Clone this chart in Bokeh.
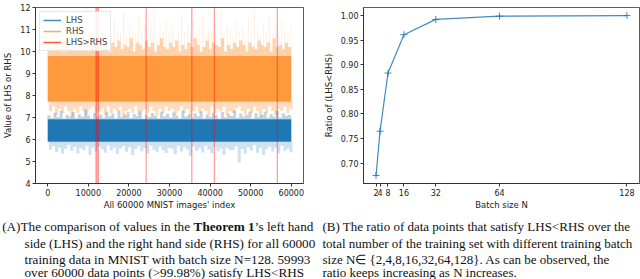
from bokeh.plotting import figure
from bokeh.layouts import row, column
from bokeh.models import Range1d, FixedTicker, Span, Label, Legend, LegendItem, PrintfTickFormatter
from bokeh.embed import file_html
from bokeh.resources import INLINE

# ---------------- data: panel A ----------------
index_span = [0, 60000]
lhs_core = [5.90, 6.92]
rhs_core = [7.72, 9.80]

spike_x = list(range(300, 60000, 750))
tall_x = list(range(675, 60000, 750))

rhs_top_mid = [10.3,10.1,10.5,10.2,10.4,10.0,10.6,10.2,10.3,10.1,10.4,10.7,10.2,10.0,10.3,10.5,10.1,10.2,10.6,10.3,
               10.0,10.4,10.2,10.5,10.1,10.3,10.2,10.6,10.0,10.4,10.3,10.1,10.5,10.2,10.4,10.0,10.3,10.6,10.2,10.1,
               10.4,10.2,10.5,10.0,10.3,10.1,10.4,10.2,10.6,10.3,10.0,10.2,10.5,10.1,10.4,10.3,10.2,10.6,10.0,10.3,
               10.1,10.4,10.2,10.5,10.3,10.0,10.4,10.2,10.1,10.5,10.3,10.2,10.4,10.0,10.6,10.2,10.3,10.1,10.4,10.2]
rhs_top_tall = [11.2,10.8,11.6,10.6,11.0,11.9,10.7,11.3,10.9,11.5,10.6,11.1,12.0,10.8,11.4,10.7,11.0,11.7,10.9,11.2,
                10.6,11.5,11.0,10.8,11.8,10.7,11.3,11.0,10.9,11.6,10.8,11.2,10.6,11.4,11.9,10.7,11.1,10.9,11.5,10.8,
                11.3,10.6,11.0,11.7,10.9,11.2,10.7,11.4,10.8,11.1,11.6,10.7,11.0,10.9,11.3,10.6,11.8,10.8,11.2,11.0,
                10.7,11.5,10.9,11.1,10.6,11.4,10.8,11.9,11.0,10.7,11.3,10.9,11.6,10.8,11.1,10.7,11.4,11.0,10.8,11.2]
rhs_bottom = [7.3,7.5,7.1,7.4,7.2,7.5,7.3,7.0,7.4,7.2,7.5,7.3,7.1,7.4,7.5,7.2,7.3,7.4,7.1,7.5,
              7.2,7.4,7.3,7.5,7.0,7.3,7.4,7.2,7.5,7.1,7.3,7.4,7.2,7.5,7.3,7.1,7.4,7.2,7.5,7.3,
              7.4,7.1,7.3,7.5,7.2,7.4,7.0,7.3,7.5,7.2,7.4,7.3,7.1,7.5,7.2,7.4,7.3,7.5,7.1,7.3,
              7.2,7.4,7.5,7.3,7.1,7.4,7.2,7.5,7.3,7.0,7.4,7.2,7.5,7.3,7.1,7.4,7.3,7.5,7.2,7.4]
lhs_top = [7.10,6.98,7.22,7.02,7.30,6.95,7.12,7.05,7.25,6.97,7.15,7.03,7.35,7.08,6.96,7.20,7.04,7.14,6.99,7.27,
           7.06,7.18,6.95,7.32,7.01,7.11,7.24,6.98,7.16,7.07,7.29,6.96,7.13,7.02,7.21,7.09,6.97,7.26,7.04,7.17,
           7.00,7.23,7.08,6.95,7.31,7.05,7.14,6.99,7.19,7.06,7.28,6.97,7.12,7.03,7.22,7.10,6.96,7.25,7.01,7.15,
           7.07,7.33,6.98,7.18,7.04,7.11,7.27,6.96,7.20,7.02,7.13,7.24,6.99,7.16,7.05,7.30,7.00,7.19,7.08,7.12]
lhs_bottom = [5.55,5.70,5.42,5.62,5.35,5.58,5.75,5.48,5.66,5.38,5.60,5.52,5.72,5.30,5.64,5.46,5.68,5.56,5.40,5.74,
              5.50,5.63,5.34,5.59,5.71,5.44,5.65,5.28,5.57,5.69,5.47,5.61,5.36,5.73,5.53,5.43,5.67,5.51,5.39,5.62,
              5.58,5.33,5.70,5.45,5.64,5.55,5.26,5.68,5.49,5.60,5.41,5.72,5.54,5.37,5.66,5.47,5.59,5.31,5.63,5.52,
              5.52,5.69,4.95,5.57,5.35,5.65,5.50,5.74,5.40,5.61,5.29,5.56,5.67,5.45,5.62,5.38,5.71,5.48,5.58,5.42]
violations = [11900, 12150, 12500, 24250, 35500, 41050, 56550]

a_xticks = [0, 10000, 20000, 30000, 40000, 50000, 60000]
a_yticks = [4, 5, 6, 7, 8, 9, 10, 11, 12]

# ---------------- data: panel B ----------------
batch = [2, 4, 8, 16, 32, 64, 128]
ratio = [0.675, 0.765, 0.883, 0.961, 0.992, 0.9985, 0.99988]
b_yticks = [0.70, 0.75, 0.80, 0.85, 0.90, 0.95, 1.00]

BLUE = "#1f77b4"
ORANGE = "#ff993e"
W, HF, HC = 320, 214, 65
SANS = "DejaVu Sans"
SERIF = "Liberation Serif"
NAN = float("nan")
STEP = 750


def style(p):
    p.grid.visible = False
    p.outline_line_color = "#333333"
    p.outline_line_width = 0.8
    for ax in (p.xaxis[0], p.yaxis[0]):
        ax.major_tick_in = 0
        ax.major_tick_out = 3
        ax.minor_tick_line_color = None
        ax.axis_line_color = "#333333"
        ax.major_tick_line_color = "#333333"
        ax.major_label_text_font = SANS
        ax.major_label_text_font_size = "8px"
        ax.major_label_text_color = "#222222"
        ax.major_label_standoff = 2
        ax.axis_label_text_font = SANS
        ax.axis_label_text_font_size = "8.5px"
        ax.axis_label_text_font_style = "normal"
        ax.axis_label_text_color = "#222222"
    p.xaxis[0].axis_label_standoff = 1
    p.yaxis[0].axis_label_standoff = 4


def flat(v, n):
    return [v] * n


# ---------------- panel A ----------------
pa = figure(width=W, height=HF, output_backend="svg", toolbar_location=None,
            x_range=Range1d(-3000, 63000), y_range=Range1d(4, 12),
            min_border_left=30, min_border_right=17, min_border_top=5, min_border_bottom=31,
            x_axis_label="All 60000 MNIST images' index", y_axis_label="Value of LHS or RHS")
style(pa)
pa.xaxis.ticker = FixedTicker(ticks=a_xticks)
pa.yaxis.ticker = FixedTicker(ticks=a_yticks)

n2 = len(index_span)
ns = len(spike_x)
# RHS
pa.segment(x0=tall_x, y0=flat(rhs_core[1], ns), x1=tall_x, y1=rhs_top_tall,
           line_color=ORANGE, line_alpha=0.16, line_width=1)
pa.vbar(x=spike_x, width=STEP, bottom=flat(rhs_core[1], ns), top=rhs_top_mid,
        fill_color=ORANGE, fill_alpha=0.42, line_color=None)
pa.vbar(x=tall_x, width=STEP, bottom=rhs_bottom, top=flat(rhs_core[0], ns),
        fill_color=ORANGE, fill_alpha=0.35, line_color=None)
pa.varea(x=index_span, y1=flat(rhs_core[0], n2), y2=flat(rhs_core[1], n2), fill_color=ORANGE, fill_alpha=1.0)
# LHS
pa.vbar(x=spike_x, width=STEP, bottom=flat(lhs_core[1], ns), top=lhs_top,
        fill_color=BLUE, fill_alpha=0.3, line_color=None)
pa.vbar(x=tall_x, width=STEP, bottom=lhs_bottom, top=flat(lhs_core[0], ns),
        fill_color=BLUE, fill_alpha=0.22, line_color=None)
pa.varea(x=index_span, y1=flat(lhs_core[0], n2), y2=flat(lhs_core[1], n2), fill_color=BLUE, fill_alpha=1.0)

for v in violations:
    pa.add_layout(Span(location=v, dimension="height", line_color="red", line_alpha=0.4, line_width=1.2))

r1 = pa.line(x=[index_span[0]], y=[NAN], line_color="#3d8bd0", line_width=1.5)
r2 = pa.line(x=[index_span[0]], y=[NAN], line_color="#ffa95a", line_width=1.5)
r3 = pa.line(x=[index_span[0]], y=[NAN], line_color="#ff5a36", line_width=1.5)
leg = Legend(items=[LegendItem(label="LHS", renderers=[r1]),
                    LegendItem(label="RHS", renderers=[r2]),
                    LegendItem(label="LHS>RHS", renderers=[r3])],
             location="top_left", label_text_font=SANS, label_text_font_size="8.5px",
             glyph_width=18, glyph_height=10, label_height=10, spacing=1, padding=3, margin=4,
             label_standoff=5, border_line_color="#d0d0d0", background_fill_alpha=0.85)
pa.add_layout(leg)

# ---------------- panel B ----------------
pb = figure(width=W, height=HF, output_backend="svg", toolbar_location=None,
            x_range=Range1d(-4.3, 134.3), y_range=Range1d(0.6587, 1.0162),
            min_border_left=39, min_border_right=1, min_border_top=7, min_border_bottom=26,
            x_axis_label="Batch size N", y_axis_label="Ratio of (LHS<RHS)")
style(pb)
pb.xaxis.ticker = FixedTicker(ticks=batch)
pb.yaxis.ticker = FixedTicker(ticks=b_yticks)
pb.yaxis.formatter = PrintfTickFormatter(format="%.2f")
pb.line(batch, ratio, line_color=BLUE, line_alpha=0.85, line_width=1.2)
pb.scatter(batch, ratio, marker="cross", size=7, line_color=BLUE, line_alpha=0.85, line_width=1)

# ---------------- captions (pixel-space canvas, y grows downward) ----------------
pc = figure(width=2 * W, height=HC, output_backend="svg", toolbar_location=None,
            x_range=Range1d(0, 2 * W), y_range=Range1d(HC, 0),
            x_axis_type=None, y_axis_type=None, min_border=0)
pc.grid.visible = False
pc.outline_line_color = None


def cap(text, x, y, bold=False, size="13px"):
    pc.add_layout(Label(x=x, y=y, text=text, text_font=SERIF, text_font_size=size,
                        text_baseline="middle", text_align="left", text_color="#111111",
                        text_font_style="bold" if bold else "normal"))


rows_y = [11.5, 28.5, 44.5, 57.8]
AS = "13.2px"
cap("(A)The comparison of values in the ", 1.7, rows_y[0], size=AS)
cap("Theorem 1", 193.1, rows_y[0], bold=True, size=AS)
cap("\u2019s left hand", 254.3, rows_y[0], size=AS)
cap("side (LHS) and the right hand side (RHS) for all 60000", 24, rows_y[1], size=AS)
cap("training data in MNIST with batch size N=128. 59993", 24, rows_y[2], size=AS)
cap("over 60000 data points (>99.98%) satisfy LHS<RHS", 24, rows_y[3], size=AS)

BS = "13px"
cap("(B) The ratio of data points that satisfy LHS<RHS over the", 322, rows_y[0] + 0.5, size=BS)
cap("total number of the training set with different training batch", 322, rows_y[1] + 0.5, size=BS)
cap("size N\u2208 {2,4,8,16,32,64,128}. As can be observed, the", 322, rows_y[2] + 0.5, size=BS)
cap("ratio keeps increasing as N increases.", 322, rows_y[3], size=BS)

layout = column(row(pa, pb), pc)
open("out.html", "w").write(file_html(layout, INLINE))
